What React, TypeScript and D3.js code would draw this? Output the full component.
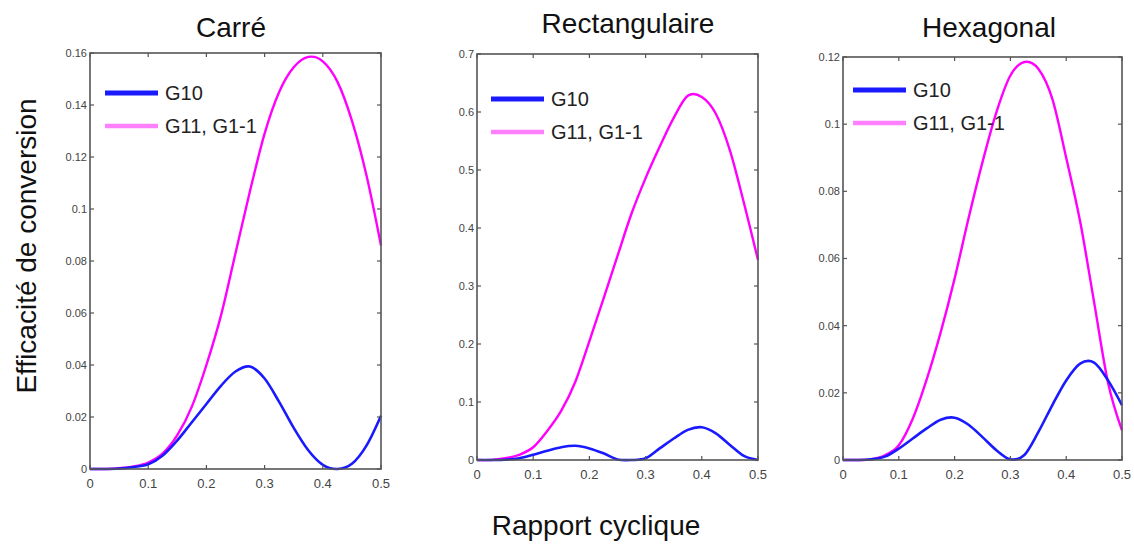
import * as d3 from "d3";

// duty cycle samples (x)
const duty = [0, 0.025, 0.05, 0.075, 0.1, 0.125, 0.15, 0.175, 0.2, 0.225, 0.25, 0.275, 0.3, 0.325, 0.35, 0.375, 0.4, 0.425, 0.45, 0.475, 0.5];

const carreG10 = [0, 0, 0.0002, 0.0008, 0.0018, 0.0052, 0.011, 0.018, 0.025, 0.032, 0.0375, 0.0394, 0.0348, 0.0258, 0.0158, 0.0072, 0.0016, 0, 0.002, 0.009, 0.0205];
const carreG11 = [0, 0, 0.0003, 0.001, 0.0025, 0.006, 0.013, 0.024, 0.04, 0.059, 0.083, 0.107, 0.129, 0.145, 0.1545, 0.1585, 0.1568, 0.149, 0.134, 0.113, 0.086];

const rectG10 = [0, 0, 0.0005, 0.003, 0.009, 0.016, 0.022, 0.0245, 0.02, 0.0115, 0.001, 0, 0.003, 0.02, 0.037, 0.052, 0.0565, 0.046, 0.026, 0.007, 0];
const rectG11 = [0, 0, 0.003, 0.009, 0.022, 0.05, 0.085, 0.135, 0.205, 0.278, 0.352, 0.425, 0.486, 0.54, 0.59, 0.628, 0.626, 0.597, 0.534, 0.443, 0.345];

const hexG10 = [0, 0, 0.0002, 0.001, 0.0034, 0.0064, 0.0094, 0.012, 0.0126, 0.0105, 0.0068, 0.0029, 0.0002, 0.0015, 0.0083, 0.0163, 0.0237, 0.0287, 0.029, 0.0237, 0.0163];
const hexG11 = [0, 0, 0.0002, 0.0014, 0.0044, 0.0123, 0.024, 0.038, 0.054, 0.072, 0.0887, 0.1036, 0.1145, 0.1185, 0.1165, 0.1076, 0.09, 0.071, 0.047, 0.023, 0.0088];

const xTicks = [0, 0.1, 0.2, 0.3, 0.4, 0.5];
const carreYTicks = [0, 0.02, 0.04, 0.06, 0.08, 0.1, 0.12, 0.14, 0.16];
const rectYTicks = [0, 0.1, 0.2, 0.3, 0.4, 0.5, 0.6, 0.7];
const hexYTicks = [0, 0.02, 0.04, 0.06, 0.08, 0.1, 0.12];

const titles = ["Carré", "Rectangulaire", "Hexagonal"];
const legendLabels = ["G10", "G11, G1-1"];

const BLUE = "#1a1aff";
const MAGENTA = "#ff00ff";
const PINK = "#ff80ff";
const AXIS = "#555";
const TICKTXT = "#444";
const FONT = "'Liberation Sans', Arial, sans-serif";
const NARROW = "'Liberation Sans Narrow', 'Arial Narrow', 'Liberation Sans', Arial";

const panels = [
  { title: titles[0], g10: carreG10, g11: carreG11, yTicks: carreYTicks, box: { l: 90, r: 381, t: 53, b: 469 }, leg: { x: 105, y: 93 }, titleX: 231, titleY: 37 },
  { title: titles[1], g10: rectG10, g11: rectG11, yTicks: rectYTicks, box: { l: 477, r: 758, t: 54, b: 460 }, leg: { x: 491, y: 99 }, titleX: 628, titleY: 33 },
  { title: titles[2], g10: hexG10, g11: hexG11, yTicks: hexYTicks, box: { l: 843, r: 1122, t: 57, b: 460 }, leg: { x: 853, y: 90 }, titleX: 989, titleY: 37 },
];

function Panel({ p }: { p: (typeof panels)[number] }) {
  const { l, r, t, b } = p.box;
  const x = d3.scaleLinear().domain([0, 0.5]).range([l, r]);
  const y = d3.scaleLinear().domain([0, d3.max(p.yTicks) as number]).range([b, t]);
  const line = d3
    .line<number>()
    .x((_, i) => x(duty[i]))
    .y((d) => y(d))
    .curve(d3.curveCatmullRom.alpha(0));
  const tl = 4;
  const fmt = (v: number) => String(+v.toFixed(2));
  return (
    <g>
      <text x={p.titleX} y={p.titleY} textAnchor="middle" fontSize={28} fontFamily={FONT} fill="#111">
        {p.title}
      </text>
      <path d={line(p.g11) || ""} fill="none" stroke={MAGENTA} strokeWidth={2.4} />
      <path d={line(p.g10) || ""} fill="none" stroke={BLUE} strokeWidth={2.6} />
      <rect x={l} y={t} width={r - l} height={b - t} fill="none" stroke={AXIS} strokeWidth={1.6} />
      {xTicks.map((v) => (
        <g key={"x" + v}>
          <line x1={x(v)} x2={x(v)} y1={b} y2={b - tl} stroke={AXIS} strokeWidth={1.2} />
          <line x1={x(v)} x2={x(v)} y1={t} y2={t + tl} stroke={AXIS} strokeWidth={1.2} />
          <text x={x(v)} y={b + 19} textAnchor="middle" fontSize={13} fontFamily={NARROW} fill={TICKTXT}>
            {fmt(v)}
          </text>
        </g>
      ))}
      {p.yTicks.map((v) => (
        <g key={"y" + v}>
          <line x1={l} x2={l + tl} y1={y(v)} y2={y(v)} stroke={AXIS} strokeWidth={1.2} />
          <line x1={r} x2={r - tl} y1={y(v)} y2={y(v)} stroke={AXIS} strokeWidth={1.2} />
          <text x={l - 3} y={y(v)} dy="0.35em" textAnchor="end" fontSize={11} fontFamily={NARROW} fill={TICKTXT}>
            {fmt(v)}
          </text>
        </g>
      ))}
      {legendLabels.map((lab, i) => (
        <g key={lab}>
          <line x1={p.leg.x} x2={p.leg.x + 53} y1={p.leg.y + i * 33} y2={p.leg.y + i * 33} stroke={i === 0 ? BLUE : PINK} strokeWidth={i === 0 ? 5 : 4.5} />
          <text x={p.leg.x + 60} y={p.leg.y + i * 33} dy="0.35em" fontSize={20} fontFamily={FONT} fill="#222">
            {lab}
          </text>
        </g>
      ))}
    </g>
  );
}

export default function App() {
  return (
    <svg width={1134} height={544} style={{ position: "absolute", left: 0, top: 0, background: "#fff" }}>
      {panels.map((p) => (
        <Panel key={p.title} p={p} />
      ))}
      <text transform="translate(36,246) rotate(-90)" textAnchor="middle" fontSize={28} fontFamily={FONT} fill="#111">
        Efficacité de conversion
      </text>
      <text x={596} y={535} textAnchor="middle" fontSize={28} fontFamily={FONT} fill="#111">
        Rapport cyclique
      </text>
    </svg>
  );
}
